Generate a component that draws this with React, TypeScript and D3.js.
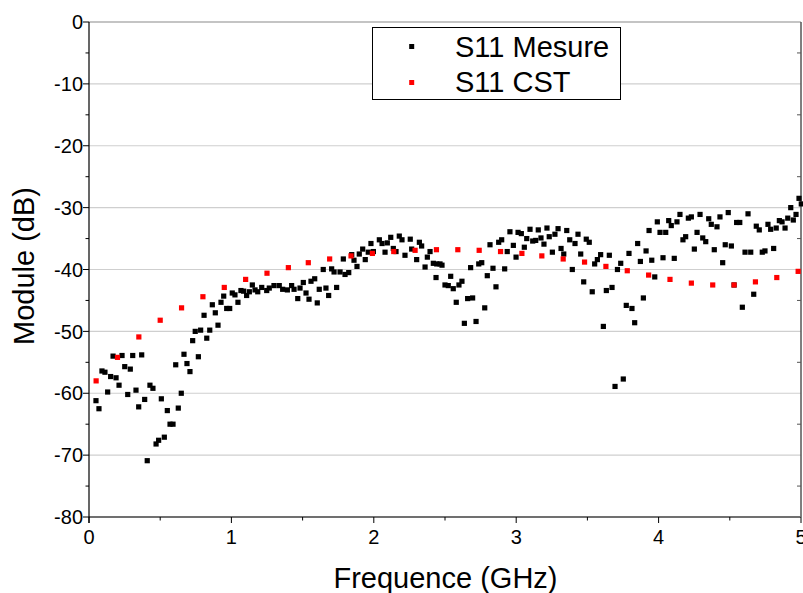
import React from "react";
import * as d3 from "d3";

const mesFreq = [
  0.049, 0.070, 0.091, 0.112, 0.131, 0.152, 0.169, 0.190, 0.211, 0.232, 0.251, 0.272, 0.290, 0.307, 0.330, 0.349,
  0.370, 0.391, 0.409, 0.428, 0.449, 0.471, 0.489, 0.508, 0.529, 0.550, 0.569, 0.590, 0.609, 0.627, 0.648, 0.667,
  0.688, 0.709, 0.728, 0.746, 0.768, 0.784, 0.808, 0.827, 0.848, 0.866, 0.887, 0.906, 0.927, 0.946, 0.967, 0.988,
  1.006, 1.025, 1.046, 1.067, 1.086, 1.107, 1.126, 1.147, 1.166, 1.185, 1.213, 1.248, 1.266, 1.299, 1.336, 1.360,
  1.393, 1.423, 1.440, 1.466, 1.482, 1.505, 1.524, 1.545, 1.559, 1.585, 1.603, 1.617, 1.645, 1.664, 1.683, 1.704,
  1.721, 1.739, 1.763, 1.786, 1.798, 1.824, 1.845, 1.861, 1.882, 1.898, 1.922, 1.940, 1.961, 1.980, 1.997, 2.039,
  2.058, 2.079, 2.095, 2.119, 2.137, 2.156, 2.179, 2.198, 2.219, 2.256, 2.266, 2.301, 2.320, 2.336, 2.360, 2.376,
  2.395, 2.418, 2.437, 2.442, 2.465, 2.479, 2.500, 2.523, 2.540, 2.558, 2.579, 2.598, 2.619, 2.636, 2.659, 2.680,
  2.694, 2.718, 2.737, 2.758, 2.779, 2.797, 2.816, 2.837, 2.858, 2.877, 2.898, 2.919, 2.937, 2.956, 2.980, 2.999,
  3.013, 3.036, 3.057, 3.074, 3.097, 3.116, 3.137, 3.155, 3.174, 3.195, 3.216, 3.232, 3.254, 3.272, 3.294, 3.315,
  3.334, 3.355, 3.376, 3.394, 3.413, 3.434, 3.453, 3.474, 3.492, 3.513, 3.534, 3.551, 3.570, 3.593, 3.612, 3.633,
  3.654, 3.673, 3.694, 3.711, 3.734, 3.752, 3.773, 3.792, 3.813, 3.832, 3.853, 3.872, 3.893, 3.912, 3.933, 3.952,
  3.973, 3.991, 4.010, 4.031, 4.050, 4.071, 4.089, 4.110, 4.129, 4.150, 4.171, 4.190, 4.209, 4.230, 4.251, 4.270,
  4.291, 4.310, 4.331, 4.352, 4.370, 4.391, 4.410, 4.431, 4.450, 4.468, 4.489, 4.511, 4.530, 4.548, 4.570, 4.588,
  4.607, 4.628, 4.647, 4.668, 4.686, 4.707, 4.728, 4.747, 4.768, 4.787, 4.808, 4.826, 4.848, 4.867, 4.888, 4.907,
  4.928, 4.946, 4.965, 4.986, 5.002,
];

const mesDb = [
  -61.2, -62.5, -56.4, -56.6, -59.8, -57.3, -54.0, -57.5, -58.7, -53.9, -55.7, -60.2, -56.1, -53.9, -59.5, -62.2,
  -53.8, -61.0, -70.9, -58.7, -59.2, -68.2, -67.6, -60.9, -67.1, -62.8, -65.0, -65.0, -55.4, -62.4, -60.0, -53.7,
  -55.2, -56.5, -51.5, -50.0, -54.1, -49.8, -47.4, -51.1, -49.8, -45.7, -47.0, -49.0, -45.3, -44.3, -46.3, -46.3,
  -43.8, -44.1, -45.3, -43.4, -43.5, -44.2, -43.6, -42.5, -43.3, -43.6, -42.9, -43.4, -43.0, -42.6, -42.6, -43.2,
  -43.3, -42.6, -43.2, -44.7, -43.0, -42.1, -43.8, -44.8, -41.9, -41.5, -45.4, -43.2, -40.0, -43.0, -44.2, -39.9,
  -40.4, -42.9, -40.4, -38.3, -40.8, -40.5, -37.6, -38.5, -39.5, -37.5, -36.7, -38.4, -37.2, -35.8, -37.1, -35.2,
  -35.8, -37.2, -35.7, -34.8, -36.6, -37.1, -34.6, -35.2, -37.7, -35.1, -36.7, -38.4, -35.6, -36.2, -39.6, -38.0,
  -37.1, -39.0, -41.3, -39.1, -39.1, -39.3, -42.5, -42.6, -41.1, -43.1, -45.3, -42.5, -41.9, -48.7, -44.7, -39.7,
  -44.6, -48.4, -39.1, -38.9, -46.2, -41.0, -36.0, -39.8, -42.8, -35.6, -35.2, -39.9, -37.1, -33.9, -36.1, -38.0,
  -34.0, -34.2, -36.4, -35.0, -33.5, -35.4, -35.3, -33.6, -34.9, -35.9, -33.3, -34.7, -37.2, -34.3, -33.4, -36.6,
  -37.5, -33.7, -35.2, -40.0, -35.8, -34.3, -37.5, -42.0, -35.1, -35.6, -43.6, -39.1, -38.4, -37.6, -49.2, -43.4,
  -37.7, -42.9, -58.9, -40.0, -39.0, -57.7, -45.8, -37.4, -46.3, -48.6, -35.8, -38.7, -44.6, -37.0, -33.7, -38.5,
  -41.2, -32.3, -34.0, -38.1, -34.0, -32.1, -32.9, -38.2, -32.3, -31.1, -35.2, -34.7, -31.7, -31.5, -36.7, -34.0,
  -31.1, -34.9, -35.5, -31.8, -32.7, -36.8, -33.1, -31.5, -38.9, -36.0, -30.8, -36.2, -42.5, -32.4, -32.4, -46.1,
  -37.2, -31.0, -37.2, -44.0, -33.0, -33.6, -37.2, -37.0, -32.7, -33.5, -36.6, -33.3, -32.1, -32.3, -33.3, -31.7,
  -30.0, -32.0, -31.1, -28.5, -29.4,
];

const cstFreq = [
  0.05, 0.20, 0.35, 0.50, 0.65, 0.80, 0.95, 1.10, 1.25, 1.40, 1.54, 1.69, 1.84, 1.99, 2.14, 2.29, 2.44,
  2.59, 2.74, 2.89, 3.04, 3.18, 3.33, 3.48, 3.63, 3.78, 3.93, 4.08, 4.23, 4.38, 4.53, 4.68, 4.83, 4.98,
];
const cstDb = [
  -58.0, -54.2, -50.9, -48.2, -46.2, -44.4, -42.9, -41.6, -40.6, -39.7, -38.9, -38.3, -37.8, -37.4, -37.1, -36.9, -36.8,
  -36.8, -36.9, -37.1, -37.4, -37.8, -38.3, -38.8, -39.5, -40.2, -40.9, -41.6, -42.2, -42.5, -42.5, -42.0, -41.3, -40.3,
];

const xTicks = [0, 1, 2, 3, 4, 5];
const xMinor = [0.5, 1.5, 2.5, 3.5, 4.5];
const yTicks = [0, -10, -20, -30, -40, -50, -60, -70, -80];
const yMinor = [-5, -15, -25, -35, -45, -55, -65, -75];
const seriesNames = ["S11 Mesure", "S11 CST"];
const seriesColors = ["#000000", "#ff0000"];

const W = 803;
const H = 593;
const FONT = "'Liberation Sans', Arial, sans-serif";

export default function App() {
  const x = d3.scaleLinear().domain([0, 5]).range([89, 801]);
  const y = d3.scaleLinear().domain([-80, 0]).range([517, 22]);
  const [x0, x1] = x.range();
  const [y0, y1] = y.range();
  const ms = 5.2;

  const mes = mesFreq.map((f, i) => ({ f, v: mesDb[i] }));
  const cst = cstFreq.map((f, i) => ({ f, v: cstDb[i] }));

  return (
    <svg
      width={W}
      height={H}
      style={{ position: "absolute", left: 0, top: 0, background: "#fff" }}
      fontFamily={FONT}
    >
      <rect x={0} y={0} width={W} height={H} fill="#fff" />
      {/* grid */}
      {yTicks
        .filter((t) => t !== 0 && t !== -80)
        .map((t) => (
          <line key={"g" + t} x1={x0} x2={x1} y1={y(t)} y2={y(t)} stroke="#cfcfcf" strokeWidth={1.2} />
        ))}
      {/* frame top/right */}
      <line x1={x0} x2={x1} y1={y1} y2={y1} stroke="#8a8a8a" strokeWidth={1.2} />
      <line x1={x1} x2={x1} y1={y1} y2={y0} stroke="#555" strokeWidth={1.5} />
      {yMinor.map((t) => (
        <line key={"rm" + t} x1={x1 - 4} x2={x1} y1={y(t)} y2={y(t)} stroke="#555" strokeWidth={1} />
      ))}
      {/* bottom axis */}
      <line x1={x0} x2={x1} y1={y0} y2={y0} stroke="#707070" strokeWidth={1.8} />
      {xTicks.map((t) => (
        <g key={"xt" + t}>
          <line x1={x(t)} x2={x(t)} y1={y0} y2={y0 + 6} stroke="#000" strokeWidth={1} />
          <text x={x(t)} y={543.5} fontSize={20} textAnchor="middle" fill="#000">
            {t}
          </text>
        </g>
      ))}
      {xMinor.map((t) => (
        <line key={"xm" + t} x1={x(t)} x2={x(t)} y1={y0} y2={y0 + 3.5} stroke="#000" strokeWidth={1} />
      ))}
      {/* left axis */}
      <line x1={x0} x2={x0} y1={y1} y2={y0 + 6} stroke="#000" strokeWidth={1.2} />
      {yTicks.map((t) => (
        <g key={"yt" + t}>
          <line x1={x0 - 6} x2={x0} y1={y(t)} y2={y(t)} stroke="#000" strokeWidth={1} />
          <text x={x0 - 6} y={y(t) + 7.2} fontSize={20} textAnchor="end" fill="#000">
            {t}
          </text>
        </g>
      ))}
      {yMinor.map((t) => (
        <line key={"ym" + t} x1={x0 - 3.5} x2={x0} y1={y(t)} y2={y(t)} stroke="#000" strokeWidth={1} />
      ))}
      {/* data */}
      {mes.map((d, i) => (
        <rect
          key={"m" + i}
          x={x(d.f) - ms / 2}
          y={y(d.v) - ms / 2}
          width={ms}
          height={ms}
          fill={seriesColors[0]}
        />
      ))}
      {cst.map((d, i) => (
        <rect
          key={"c" + i}
          x={x(d.f) - ms / 2}
          y={y(d.v) - ms / 2}
          width={ms}
          height={ms}
          fill={seriesColors[1]}
        />
      ))}
      {/* legend */}
      <rect x={372.5} y={27.5} width={248} height={72} fill="#fff" stroke="#000" strokeWidth={1} />
      {seriesNames.map((n, i) => (
        <g key={"l" + i}>
          <rect x={411.7 - 2.5} y={(i === 0 ? 46.5 : 82.5) - 2.5} width={5} height={5} fill={seriesColors[i]} />
          <text x={455} y={i === 0 ? 57 : 92} fontSize={29} fill="#000">
            {n}
          </text>
        </g>
      ))}
      {/* titles */}
      <text x={445.5} y={588} fontSize={29} textAnchor="middle" fill="#000">
        Frequence (GHz)
      </text>
      <text
        transform={`translate(33.5,266) rotate(-90)`}
        fontSize={29}
        textAnchor="middle"
        fill="#000"
      >
        Module (dB)
      </text>
    </svg>
  );
}
